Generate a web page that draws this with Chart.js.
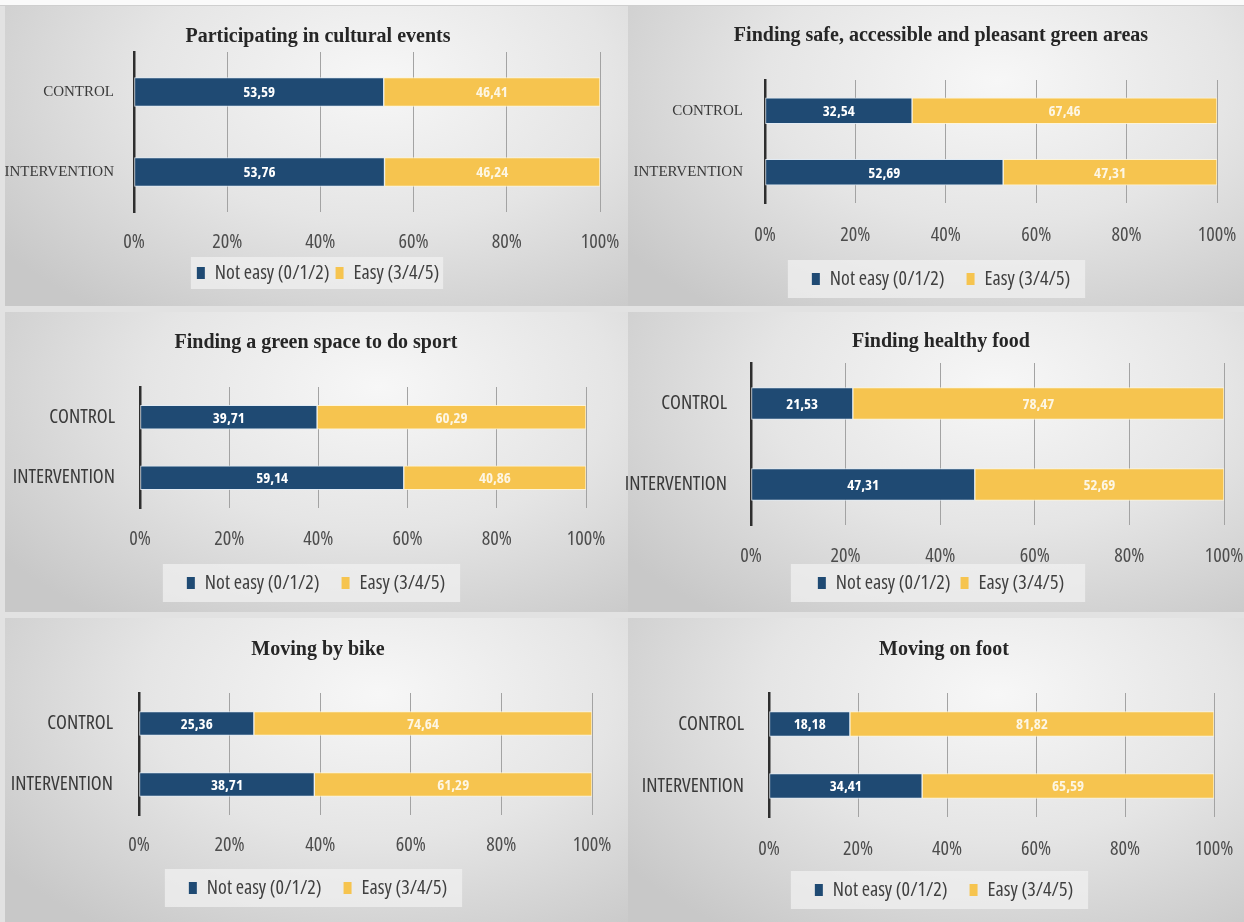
<!DOCTYPE html>
<html>
<head>
<meta charset="utf-8">
<script src="https://cdn.jsdelivr.net/npm/chart.js@4.4.1/dist/chart.umd.min.js"></script>
<style>
  html, body { margin: 0; padding: 0; }
  body { width: 1244px; height: 922px; background: #e2e2e2; position: relative; overflow: hidden; }
  #topStrip { position: absolute; left: 0; top: 0; width: 1244px; height: 5px; background: #fafafa; border-bottom: 1px solid #cfcfcf; }
  .panel {
    position: absolute;
    background: radial-gradient(ellipse 75% 95% at 60% 25%, #f7f7f7 0%, #e5e5e5 50%, #c8c8c8 100%);
  }
  canvas { position: absolute; display: block; }
</style>
</head>
<body>
<div id="topStrip"></div>
<script>
// 데이터
const categories = ['CONTROL', 'INTERVENTION'];
const seriesNames = ['Not easy (0/1/2)', 'Easy (3/4/5)'];
const chartTitles = [
    'Participating in cultural events',
    'Finding safe, accessible and pleasant green areas',
    'Finding a green space to do sport',
    'Finding healthy food',
    'Moving by bike',
    'Moving on foot'
];
const notEasyValues = [
    [53.59, 53.76],
    [32.54, 52.69],
    [39.71, 59.14],
    [21.53, 47.31],
    [25.36, 38.71],
    [18.18, 34.41]
];
const easyValues = [
    [46.41, 46.24],
    [67.46, 47.31],
    [60.29, 40.86],
    [78.47, 52.69],
    [74.64, 61.29],
    [81.82, 65.59]
];
const percentTicks = [0, 20, 40, 60, 80, 100];

// 패널 배치 (box: x, y, w, h / chart: left, right, top, bottom)
const panelLayout = [
    {box: [5, 6, 623, 300], chart: [134, 600, 52, 212], titleX: 318, titleY: 37, tickY: 240, legendY: 273, bar: 29, catPad: 12, serif: true, gap: 6, legendMargin: [6, 4], legendHalf: 16},
    {box: [628, 6, 616, 300], chart: [765, 1217, 80, 203], titleX: 941, titleY: 36, tickY: 233, legendY: 279, bar: 26, catPad: 14, serif: true, gap: 22, legendMargin: [24, 15], legendHalf: 19},
    {box: [5, 312, 623, 300], chart: [140, 586, 387, 508], titleX: 316, titleY: 343, tickY: 537, legendY: 583, bar: 24, catPad: 17, serif: false, gap: 22, legendMargin: [24, 15], legendHalf: 19},
    {box: [628, 312, 616, 300], chart: [751, 1224, 363, 525], titleX: 941, titleY: 342, tickY: 554, legendY: 583, bar: 32, catPad: 16, serif: false, gap: 10, legendMargin: [27, 21], legendHalf: 19},
    {box: [5, 618, 623, 304], chart: [139, 592, 693, 815], titleX: 318, titleY: 650, tickY: 843, legendY: 888, bar: 24, catPad: 18, serif: false, gap: 22, legendMargin: [24, 15], legendHalf: 19},
    {box: [628, 618, 616, 304], chart: [769, 1214, 693, 817], titleX: 944, titleY: 650, tickY: 847, legendY: 890, bar: 25, catPad: 17, serif: false, gap: 22, legendMargin: [24, 15], legendHalf: 19}
];

const NAVY = '#1f4a73';
const GOLD = '#f6c44f';
// Open Sans 가변폰트의 condensed 폭 사용
const NARROW = '"Open Sans", "DejaVu Sans Condensed", sans-serif';
const SERIF = '"Liberation Serif", "DejaVu Serif", serif';
const LEGEND_FONT = 20;

// 막대 안 숫자
const barValueLabels = {
    id: 'barValueLabels',
    afterDatasetsDraw(chart) {
        const ctx = chart.ctx;
        ctx.save();
        ctx.font = 'condensed bold 15px ' + NARROW;
        ctx.textAlign = 'center';
        ctx.textBaseline = 'middle';
        chart.data.datasets.forEach(function(ds, i) {
            chart.getDatasetMeta(i).data.forEach(function(bar, j) {
                ctx.fillStyle = i === 0 ? '#ffffff' : '#fdf6e4';
                ctx.fillText(ds.data[j].toFixed(2).replace('.', ','), (bar.x + bar.base) / 2, bar.y + 1);
            });
        });
        ctx.restore();
    }
};

// 범례 뒤 밝은 상자
const legendBackdrop = {
    id: 'legendBackdrop',
    beforeDraw(chart, args, opts) {
        const hb = chart.legend && chart.legend.legendHitBoxes;
        if (!hb || !hb.length) return;
        const last = hb[hb.length - 1];
        const left = hb[0].left - opts.margin[0];
        const right = last.left + last.width + opts.margin[1];
        const mid = hb[0].top + hb[0].height / 2;
        const ctx = chart.ctx;
        ctx.save();
        ctx.fillStyle = 'rgba(240, 240, 240, 0.75)';
        ctx.fillRect(left, mid - opts.half, right - left, opts.half * 2);
        ctx.restore();
    }
};

// 캔버스 위치와 축/범례 크기 계산
function geometry(p) {
    const [bx, by, bw, bh] = p.box;
    const [cl, cr, ct, cb] = p.chart;
    const left = bx - 12;                 // 긴 축 라벨이 잘리지 않게 조금 왼쪽으로
    const right = 2 * p.titleX - left;    // 제목·범례가 가운데 오도록 대칭
    const legendTop = p.legendY - p.gap - LEGEND_FONT / 2;
    const legendBottom = legendTop + LEGEND_FONT + p.gap + 10;
    return {
        left: left,
        top: by,
        width: right - left,
        height: bh,
        yWidth: cl - left,
        spacerWidth: right - cr,
        padBottom: by + bh - legendBottom,
        xHeight: legendTop - cb,
        tickPad: p.tickY - cb - 10,
        titlePad: {top: p.titleY - by - 12, bottom: ct - p.titleY - 12}
    };
}

function makeBackground(p) {
    const [bx, by, bw, bh] = p.box;
    const div = document.createElement('div');
    div.className = 'panel';
    div.style.left = bx + 'px';
    div.style.top = by + 'px';
    div.style.width = bw + 'px';
    div.style.height = bh + 'px';
    document.body.appendChild(div);
}

function drawPanel(index) {
    const p = panelLayout[index];
    const g = geometry(p);

    const canvas = document.createElement('canvas');
    canvas.width = g.width;
    canvas.height = g.height;
    canvas.style.left = g.left + 'px';
    canvas.style.top = g.top + 'px';
    document.body.appendChild(canvas);

    return new Chart(canvas.getContext('2d'), {
        type: 'bar',
        data: {
            labels: categories,
            datasets: [{
                label: seriesNames[0],
                data: notEasyValues[index],
                xAxisID: 'x',
                yAxisID: 'y',
                backgroundColor: NAVY,
                borderColor: 'rgba(225, 235, 245, 0.9)',
                borderWidth: 1,
                borderSkipped: false,
                barThickness: p.bar
            }, {
                label: seriesNames[1],
                data: easyValues[index],
                xAxisID: 'x',
                yAxisID: 'y',
                backgroundColor: GOLD,
                borderColor: 'rgba(255, 245, 215, 0.9)',
                borderWidth: 1,
                borderSkipped: false,
                barThickness: p.bar
            }]
        },
        options: {
            indexAxis: 'y',
            responsive: false,
            animation: false,
            devicePixelRatio: 1,
            layout: {
                padding: {left: 0, right: 0, top: 0, bottom: g.padBottom}
            },
            scales: {
                x: {
                    stacked: true,
                    min: 0,
                    max: 100,
                    afterBuildTicks: function(scale) {
                        scale.ticks = percentTicks.map(function(v) { return {value: v}; });
                    },
                    afterFit: function(scale) { scale.height = g.xHeight; },
                    grid: {color: '#a3a3a3', lineWidth: 1, drawTicks: false},
                    border: {display: false},
                    ticks: {
                        padding: g.tickPad,
                        color: '#4d4d4d',
                        font: {family: NARROW, weight: 'condensed', size: 20},
                        maxRotation: 0,
                        callback: function(v) { return v + '%'; }
                    }
                },
                y: {
                    stacked: true,
                    afterFit: function(scale) { scale.width = g.yWidth; },
                    grid: {display: false},
                    border: {color: '#2e2e2e', width: 2.5},
                    ticks: {
                        padding: p.catPad,
                        color: '#3a3a3a',
                        font: p.serif ? {family: SERIF, size: 15} : {family: NARROW, weight: 'condensed', size: 20}
                    }
                },
                // 오른쪽 여백용 빈 축 (제목/범례 가운데 맞춤)
                spacer: {
                    type: 'linear',
                    axis: 'y',
                    position: 'right',
                    display: true,
                    afterFit: function(scale) { scale.width = g.spacerWidth; },
                    grid: {display: false},
                    border: {display: false},
                    ticks: {display: false}
                }
            },
            plugins: {
                title: {
                    display: true,
                    text: chartTitles[index],
                    color: '#262626',
                    font: {family: SERIF, size: 20, weight: 'bold'},
                    padding: g.titlePad
                },
                legend: {
                    position: 'bottom',
                    labels: {
                        boxWidth: 8,
                        boxHeight: 12,
                        padding: p.gap,
                        color: '#404040',
                        font: {family: NARROW, weight: 'condensed', size: LEGEND_FONT},
                        generateLabels: function(chart) {
                            return Chart.defaults.plugins.legend.labels.generateLabels(chart).map(function(item) {
                                item.lineWidth = 0;
                                return item;
                            });
                        }
                    }
                },
                legendBackdrop: {margin: p.legendMargin, half: p.legendHalf},
                tooltip: {enabled: false}
            }
        },
        plugins: [legendBackdrop, barValueLabels]
    });
}

// 배경 먼저, 차트는 그 위에
panelLayout.forEach(makeBackground);
for (let i = 0; i < chartTitles.length; i++) {
    drawPanel(i);
}
</script>
</body>
</html>
